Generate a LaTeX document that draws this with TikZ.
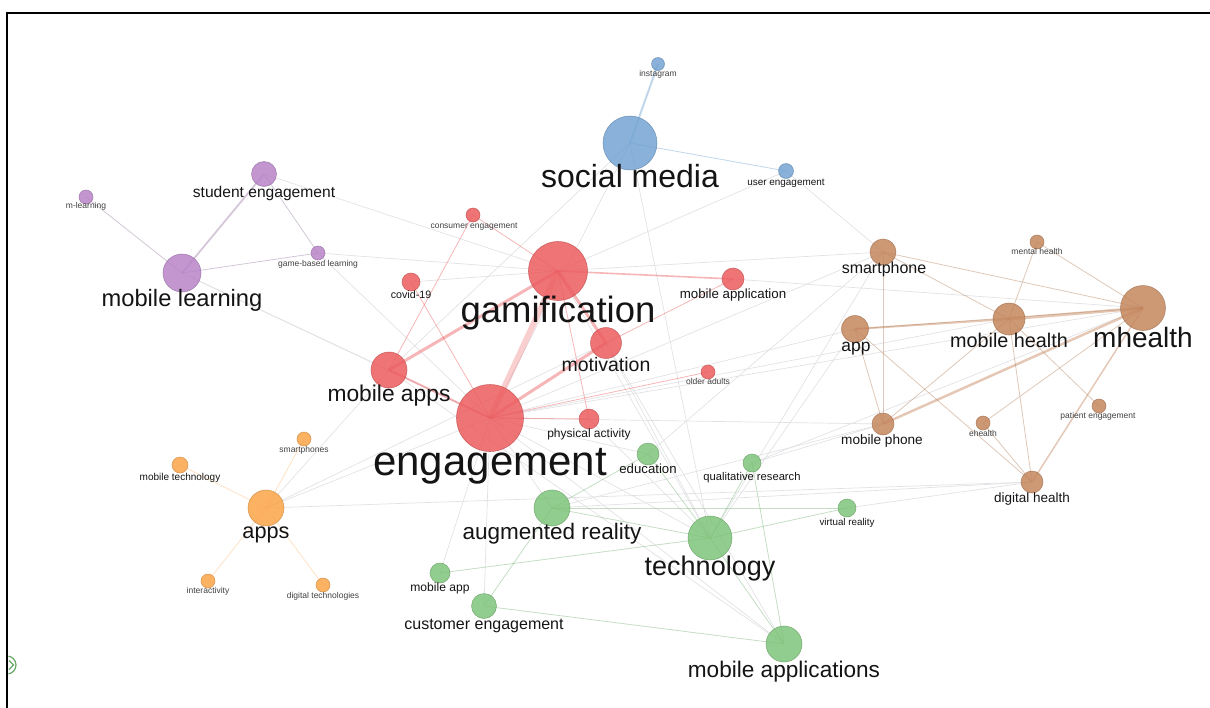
\documentclass[tikz,border=0pt]{standalone}
\usepackage{fontspec}
\setmainfont{Liberation Sans}
\pgfdeclarelayer{background}
\pgfsetlayers{background,main}
\definecolor{cred}{RGB}{236,92,94}
\definecolor{cblue}{RGB}{116,163,210}
\definecolor{cpurp}{RGB}{184,132,200}
\definecolor{corange}{RGB}{252,165,72}
\definecolor{cgreen}{RGB}{126,196,122}
\definecolor{cbrown}{RGB}{196,134,92}
\definecolor{ink}{RGB}{20,20,20}
\definecolor{faint}{RGB}{226,226,230}
\tikzset{
  bub/.style={circle, inner sep=0pt, fill=#1, fill opacity=0.85, draw=#1!80!black, draw opacity=0.7, line width=0.6pt},
  lab/.style={anchor=base, inner sep=0pt, text=ink, font=\fontsize{#1}{#1}\selectfont},
  tiny/.style={anchor=base, inner sep=0pt, text=black!75, font=\fontsize{8.5}{8.5}\selectfont},
  gline/.style={draw=faint, line width=0.7pt},
  cline/.style={draw=#1, draw opacity=0.45, line width=0.8pt},
}
\begin{document}
\begin{tikzpicture}[x=1pt,y=-1pt]
\useasboundingbox (0,0) rectangle (1210,707);

% frame edges
\draw[line width=2.6pt] (7,13) -- (1212,13);
\draw[line width=2.4pt] (7,11.7) -- (7,709);

% small control icon on the left edge
\begin{scope}
  \clip (8.3,650) rectangle (25,680);
  \draw[cgreen!85!black, line width=1.2pt] (7,665) circle (9);
  \draw[cgreen!85!black, line width=1.1pt] (9,660.5) -- (13.5,665) -- (9,669.5);
\end{scope}

% ---- blue cluster
\node[bub=cblue, minimum size=13] (insta) at (658,64) {};
\node[bub=cblue, minimum size=54] (soc) at (630,143) {};
\node[bub=cblue, minimum size=15] (ue) at (786,171) {};
% ---- purple cluster
\node[bub=cpurp, minimum size=25] (stud) at (264,174) {};
\node[bub=cpurp, minimum size=14] (mlg) at (86,197) {};
\node[bub=cpurp, minimum size=38] (ml) at (182,273) {};
\node[bub=cpurp, minimum size=14] (gbl) at (318,253) {};
% ---- red cluster
\node[bub=cred, minimum size=14] (cons) at (473,215) {};
\node[bub=cred, minimum size=18] (covid) at (411,282) {};
\node[bub=cred, minimum size=59] (gam) at (558,271) {};
\node[bub=cred, minimum size=22] (mapp) at (733,279) {};
\node[bub=cred, minimum size=31] (mot) at (606,343) {};
\node[bub=cred, minimum size=36] (mapps) at (389,370) {};
\node[bub=cred, minimum size=14] (old) at (708,372) {};
\node[bub=cred, minimum size=67] (eng) at (490,418) {};
\node[bub=cred, minimum size=20] (pa) at (589,419) {};
% ---- green cluster
\node[bub=cgreen, minimum size=22] (edu) at (648,454) {};
\node[bub=cgreen, minimum size=18] (qr) at (752,463) {};
\node[bub=cgreen, minimum size=36] (ar) at (552,508) {};
\node[bub=cgreen, minimum size=44] (tech) at (710,538) {};
\node[bub=cgreen, minimum size=18] (vr) at (847,508) {};
\node[bub=cgreen, minimum size=20] (mobapp) at (440,573) {};
\node[bub=cgreen, minimum size=25] (cust) at (484,606) {};
\node[bub=cgreen, minimum size=36] (mapplic) at (784,644) {};
% ---- orange cluster
\node[bub=corange, minimum size=36] (apps) at (266,508) {};
\node[bub=corange, minimum size=14] (sphs) at (304,439) {};
\node[bub=corange, minimum size=16] (mtech) at (180,465) {};
\node[bub=corange, minimum size=14] (inter) at (208,581) {};
\node[bub=corange, minimum size=14] (dtech) at (323,585) {};
% ---- brown cluster
\node[bub=cbrown, minimum size=26] (smph) at (883,252) {};
\node[bub=cbrown, minimum size=14] (ment) at (1037,242) {};
\node[bub=cbrown, minimum size=45] (mh) at (1143,308) {};
\node[bub=cbrown, minimum size=32] (mobh) at (1009,319) {};
\node[bub=cbrown, minimum size=27] (app) at (855,329) {};
\node[bub=cbrown, minimum size=22] (mph) at (883,424) {};
\node[bub=cbrown, minimum size=14] (eh) at (983,423) {};
\node[bub=cbrown, minimum size=14] (pe) at (1099,406) {};
\node[bub=cbrown, minimum size=22] (dh) at (1032,482) {};

% ---- labels
\node[tiny] (insta-t) at (658,76) {instagram};
\node[lab=32] (soc-t) at (630,187) {social media};
\node[lab=9.9] (ue-t) at (786,185) {user engagement};
\node[lab=15.6] (stud-t) at (264,197) {student engagement};
\node[tiny] (mlg-t) at (86,208) {m-learning};
\node[lab=23.7] (ml-t) at (182,306) {mobile learning};
\node[tiny] (gbl-t) at (318,266) {game-based learning};
\node[tiny] (cons-t) at (474,228) {consumer engagement};
\node[lab=10.7] (covid-t) at (411,298) {covid-19};
\node[lab=36.5] (gam-t) at (558,322) {gamification};
\node[lab=13.3] (mapp-t) at (733,298) {mobile application};
\node[lab=19.5] (mot-t) at (606,371) {motivation};
\node[lab=22.8] (mapps-t) at (389,401) {mobile apps};
\node[tiny] (old-t) at (708,384) {older adults};
\node[lab=42] (eng-t) at (490,475) {engagement};
\node[lab=12] (pa-t) at (589,437) {physical activity};
\node[lab=13.2] (edu-t) at (648,473) {education};
\node[lab=11.2] (qr-t) at (752,480) {qualitative research};
\node[lab=22.5] (ar-t) at (552,539) {augmented reality};
\node[lab=27] (tech-t) at (710,575) {technology};
\node[lab=9.8] (vr-t) at (847,525) {virtual reality};
\node[lab=12.1] (mobapp-t) at (440,591) {mobile app};
\node[lab=16] (cust-t) at (484,629) {customer engagement};
\node[lab=22.6] (mapplic-t) at (784,677) {mobile applications};
\node[lab=21.7] (apps-t) at (266,538) {apps};
\node[tiny] (sphs-t) at (304,452) {smartphones};
\node[lab=10] (mtech-t) at (180,480) {mobile technology};
\node[tiny] (inter-t) at (208,593) {interactivity};
\node[tiny] (dtech-t) at (323,598) {digital technologies};
\node[lab=16] (smph-t) at (884,273) {smartphone};
\node[tiny] (ment-t) at (1037,254) {mental health};
\node[lab=28] (mh-t) at (1143,347) {mhealth};
\node[lab=19.8] (mobh-t) at (1009,347) {mobile health};
\node[lab=17.4] (app-t) at (856,351) {app};
\node[lab=13.6] (mph-t) at (882,444) {mobile phone};
\node[tiny] (eh-t) at (983,436) {ehealth};
\node[tiny] (pe-t) at (1098,418) {patient engagement};
\node[lab=13.5] (dh-t) at (1032,502) {digital health};

\begin{pgfonlayer}{background}
  % links between clusters
  \foreach \a/\b in {soc/eng, soc/mapps, soc/tech, ue/gam, ue/smph, stud/gam, gbl/gam,
      ml/eng, ml/mapps, gbl/eng, apps/eng, apps/mot, apps/dh, eng/tech, eng/mapplic,
      eng/cust, eng/mobapp, eng/edu, eng/ar, eng/smph, eng/mh, eng/mph, gam/smph,
      mapp/mh, tech/smph, tech/app, edu/smph, qr/mh, qr/mph, ar/dh, ar/mph, vr/dh,
      mapplic/mapps, gam/tech, mot/tech, mot/mapplic, covid/gam, pa/tech, eng/app,
      mobh/eng, apps/mapps}
    \draw[gline] (\a.center) -- (\b.center);
  % blue links
  \draw[cline=cblue, line width=2pt] (soc.center) -- (insta.center);
  \draw[cline=cblue] (soc.center) -- (ue.center);
  % purple links
  \draw[cline=cpurp!60!gray, line width=1.8pt] (ml.center) -- (stud.center);
  \foreach \a/\b in {ml/mlg, ml/gbl, stud/gbl}
    \draw[cline=cpurp!50!gray] (\a.center) -- (\b.center);
  % red links
  \draw[draw=cred, draw opacity=0.3, line width=6pt] (gam.center) -- (eng.center);
  \draw[cline=cred, line width=3pt] (gam.center) -- (mapps.center);
  \draw[cline=cred, line width=3pt] (gam.center) -- (mot.center);
  \draw[cline=cred, line width=3pt] (eng.center) -- (mot.center);
  \draw[cline=cred, line width=2pt] (eng.center) -- (mapps.center);
  \draw[cline=cred, line width=1.6pt] (gam.center) -- (mapp.center);
  \foreach \a/\b in {gam/cons, mapps/cons, eng/covid, eng/pa, gam/pa, eng/old, mot/mapp}
    \draw[cline=cred] (\a.center) -- (\b.center);
  % orange links
  \foreach \b in {sphs, mtech, inter, dtech}
    \draw[cline=corange!70!white] (apps.center) -- (\b.center);
  % green links
  \foreach \a/\b in {tech/mapplic, tech/ar, tech/edu, tech/qr, tech/mobapp, tech/vr,
      ar/cust, ar/vr, qr/mapplic, cust/mapplic, ar/edu}
    \draw[cline=cgreen!80!gray] (\a.center) -- (\b.center);
  % brown links
  \draw[cline=cbrown, line width=3pt] (mh.center) -- (mobh.center);
  \draw[cline=cbrown, line width=2.5pt] (mh.center) -- (mph.center);
  \draw[cline=cbrown, line width=2pt] (app.center) -- (mobh.center);
  \draw[cline=cbrown, line width=1.5pt] (mh.center) -- (dh.center);
  \foreach \a/\b in {smph/mobh, smph/mh, smph/mph, app/mph, app/dh, mobh/ment, mh/ment,
      mobh/dh, mobh/pe, mh/eh, eh/dh, mph/mobh, mh/app}
    \draw[cline=cbrown!80!gray] (\a.center) -- (\b.center);
\end{pgfonlayer}
\end{tikzpicture}
\end{document}
